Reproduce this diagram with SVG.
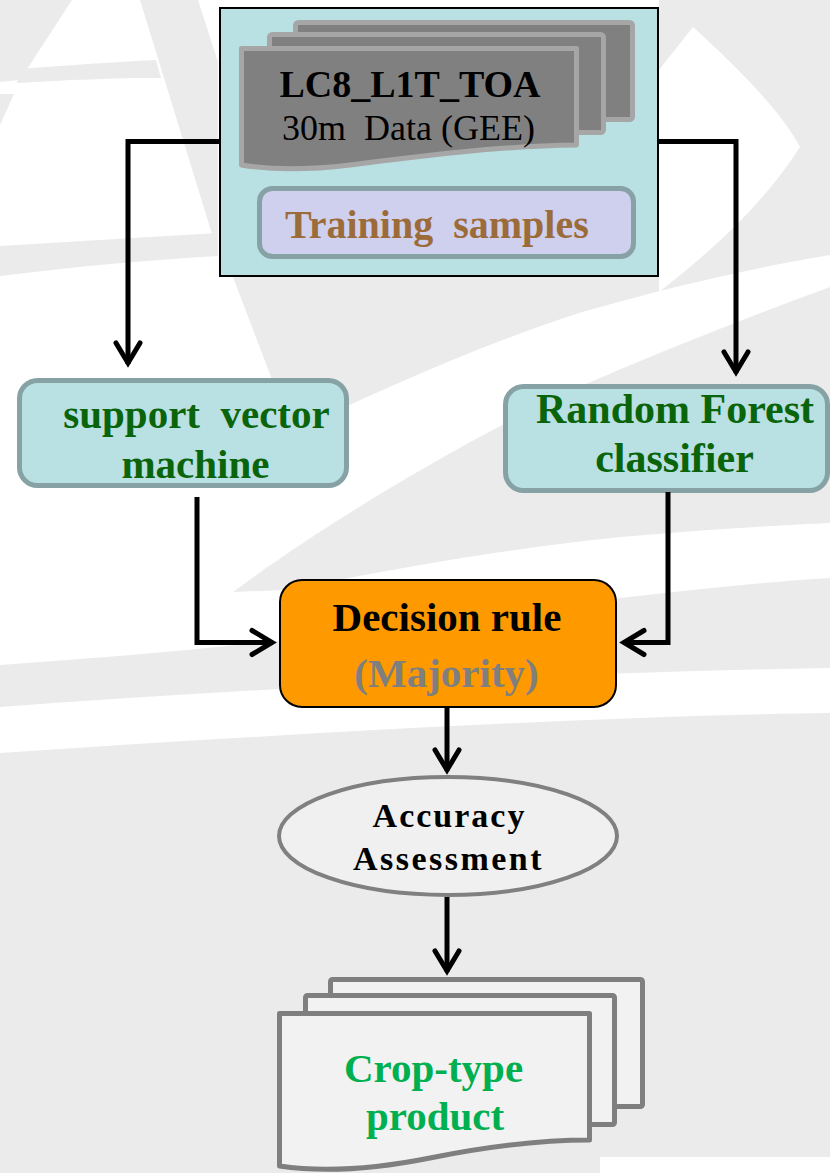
<svg xmlns="http://www.w3.org/2000/svg" width="830" height="1173" viewBox="0 0 830 1173">
  <style>
    .wm { fill: #ebebeb; }
    .lbl { font-family: "Liberation Serif", "Times New Roman", serif; font-weight: bold; text-anchor: middle; }
    .plain { font-family: "Liberation Serif", "Times New Roman", serif; }
    .green { fill: #0a640a; }
    .wire { fill: none; stroke: #000; stroke-width: 5; stroke-linejoin: miter; }
    .card { fill: #b9e0e3; stroke: #87a2a5; stroke-width: 5; }
    .sheetDark { fill: #808080; stroke: #a6a6a6; stroke-width: 5; stroke-linejoin: round; }
    .sheetLight { fill: #f2f2f2; stroke: #7f7f7f; stroke-width: 5; stroke-linejoin: round; }
  </style>
  <defs>
    <marker id="chev" markerUnits="userSpaceOnUse" viewBox="-30 -20 40 40" markerWidth="40" markerHeight="40" refX="0" refY="0" orient="auto">
      <path d="M-21,-12 L-1,0 L-21,12" fill="none" stroke="#000" stroke-width="5" stroke-linecap="round" stroke-linejoin="miter"/>
    </marker>
  </defs>

  <!-- faint backdrop artwork -->
  <g id="backdrop">
    <rect x="0" y="0" width="830" height="1173" fill="#ffffff"/>
    <!-- upper-left strokes -->
    <path class="wm" d="M0,0 H72 L20,80 L0,82 Z"/>
    <path class="wm" d="M0,94 H14 L0,125 Z"/>
    <path class="wm" d="M20,69 C70,65 115,62 156,60 L161,78 C115,78 65,80 17,83 Z"/>
    <path class="wm" d="M140,0 H198 L218,62 V240 L212,234 Z"/>
    <path class="wm" d="M0,246 C80,241 150,237 218,233 V256 C150,260 80,266 0,276 Z"/>
    <!-- upper-right sweep, continuing under the input panel -->
    <path class="wm" d="M659,0 H830 V255 C740,270 660,290 582,312 C480,345 380,390 292,432 L233,277 H659 Z"/>
    <path fill="#ffffff" d="M693,27 C740,70 780,110 800,147 C760,210 700,260 659,292 V70 Z"/>
    <!-- long diagonal band between the classifiers -->
    <path class="wm" d="M830,287 C740,320 660,352 600,378 C480,430 330,520 233,592 L285,590 C380,572 480,552 620,537 C700,530 780,525 830,523 Z"/>
    <!-- lower horizontal bands -->
    <path class="wm" d="M0,665 C150,655 300,640 450,620 C600,600 720,585 830,578 V668 C600,672 300,685 0,707 Z"/>
    <path class="wm" d="M0,753 C300,733 600,716 830,713 V1173 H0 Z"/>
    <rect x="600" y="1157" width="230" height="16" fill="#ffffff"/>
  </g>

  <!-- input imagery panel -->
  <g id="input-panel">
    <rect x="220" y="8" width="438" height="268" fill="#b9e0e3" stroke="#000" stroke-width="2"/>
    <rect class="sheetDark" x="295.5" y="22.5" width="337" height="97" rx="3"/>
    <rect class="sheetDark" x="269.5" y="34.5" width="334" height="98" rx="3"/>
    <path class="sheetDark" d="M241.5,48.5 H576.5 V145 C500,146 420,156 350,165 C300,171 265,169 241.5,165 Z"/>
    <text class="lbl" x="410" y="97" font-size="38" fill="#000">LC8_L1T_TOA</text>
    <text class="plain" x="282" y="140" font-size="36" fill="#000" xml:space="preserve">30m  Data (GEE)</text>
    <rect x="259.5" y="188.5" width="374" height="68" rx="13" fill="#cfcfee" stroke="#87a2a5" stroke-width="5"/>
    <text class="plain" x="285" y="238" font-size="40" font-weight="bold" fill="#9c6b3a" xml:space="preserve">Training  samples</text>
  </g>

  <!-- classifier: SVM -->
  <g id="svm">
    <rect class="card" x="19.5" y="380.5" width="327" height="105" rx="18"/>
    <text class="lbl green" x="196.5" y="428" font-size="41" xml:space="preserve">support  vector</text>
    <text class="lbl green" x="195.5" y="478" font-size="41">machine</text>
  </g>

  <!-- classifier: Random Forest -->
  <g id="random-forest">
    <rect class="card" x="505.5" y="386.5" width="322" height="104" rx="18"/>
    <text class="lbl green" x="675" y="423" font-size="42">Random Forest</text>
    <text class="lbl green" x="674.5" y="472" font-size="42">classifier</text>
  </g>

  <!-- majority vote -->
  <g id="decision-rule">
    <rect x="280" y="580" width="336" height="127" rx="22" fill="#ff9900" stroke="#000" stroke-width="2"/>
    <text class="lbl" x="447" y="631" font-size="41" fill="#000">Decision rule</text>
    <text class="lbl" x="446.5" y="687" font-size="41" fill="#7f7f7f">(Majority)</text>
  </g>

  <!-- accuracy check -->
  <g id="accuracy">
    <ellipse cx="448" cy="836" rx="169" ry="59" fill="#f0f0f0" stroke="#808080" stroke-width="4"/>
    <text class="lbl" x="449.5" y="827" font-size="34" letter-spacing="2" fill="#000">Accuracy</text>
    <text class="lbl" x="448.5" y="870" font-size="34" letter-spacing="2.5" fill="#000">Assessment</text>
  </g>

  <!-- output maps -->
  <g id="crop-product">
    <rect class="sheetLight" x="330.5" y="979.5" width="312" height="127" rx="2"/>
    <rect class="sheetLight" x="305.5" y="995.5" width="309" height="129" rx="2"/>
    <path class="sheetLight" d="M279.5,1013.5 H589.5 V1140 C540,1140 490,1146 430,1158 C370,1170 320,1172 279.5,1166 Z"/>
    <text class="lbl" x="433.5" y="1082" font-size="41" fill="#00b050">Crop-type</text>
    <text class="lbl" x="435" y="1130" font-size="41" fill="#00b050">product</text>
  </g>

  <!-- flow connectors -->
  <g id="connectors">
    <path class="wire" d="M220,141.5 H128 V364" marker-end="url(#chev)"/>
    <path class="wire" d="M658,141.5 H736 V373" marker-end="url(#chev)"/>
    <path class="wire" d="M197,497 V642.5 H273" marker-end="url(#chev)"/>
    <path class="wire" d="M668,492 V642.5 H623" marker-end="url(#chev)"/>
    <path class="wire" d="M447,708 V771" marker-end="url(#chev)"/>
    <path class="wire" d="M447,897 V972" marker-end="url(#chev)"/>
  </g>
</svg>
